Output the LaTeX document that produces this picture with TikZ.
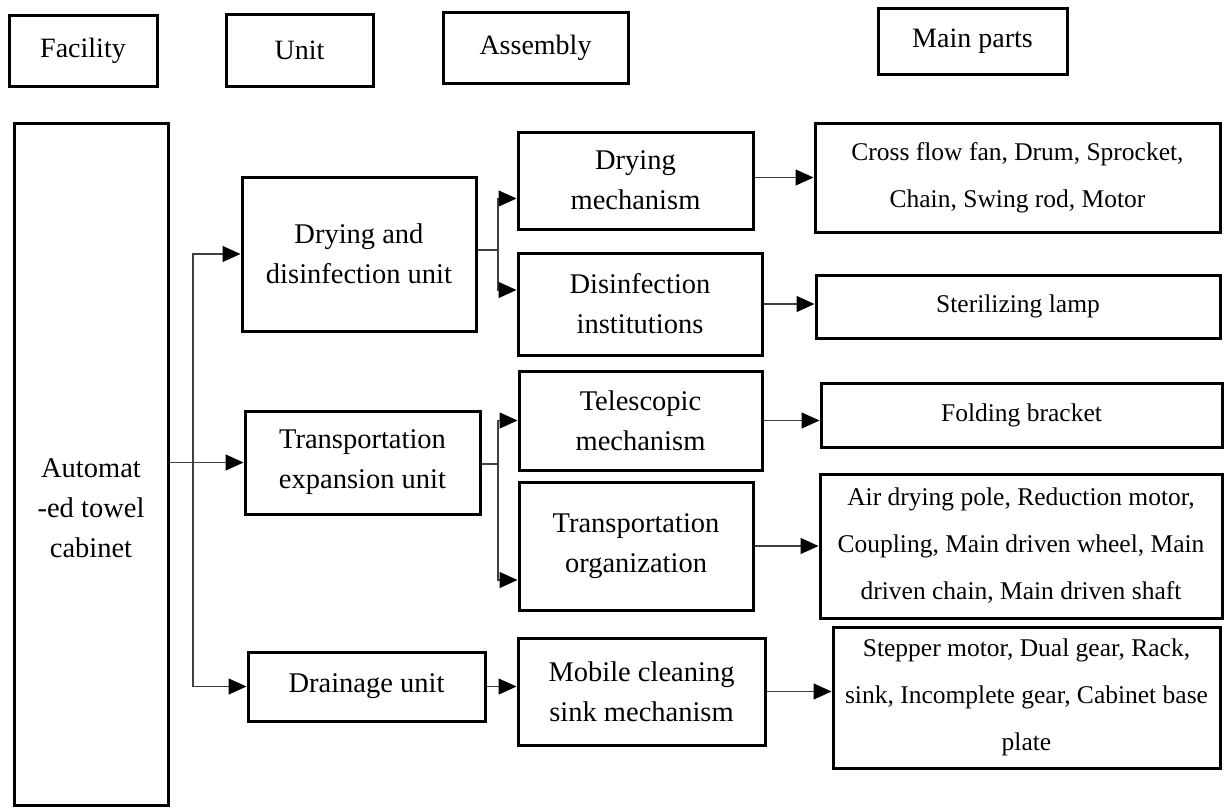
\documentclass[tikz,border=0pt]{standalone}
\usepackage{fontspec}
\setmainfont{Liberation Serif}
\usetikzlibrary{arrows.meta}

\tikzset{
  box/.style={draw=black,line width=3pt,align=center,inner sep=0pt},
  headtext/.style={font=\fontsize{28}{32}\selectfont},
  midtext/.style={font=\fontsize{28.5}{40}\selectfont},
  parttext/.style={font=\fontsize{25.5}{47}\selectfont},
  link/.style={draw=black!75,line width=1.3pt},
  arr/.style={link,-{Triangle[length=18pt,width=16pt,color=black]}}
}

\begin{document}
\begin{tikzpicture}[x=1pt,y=-1pt]
  \useasboundingbox (0,0) rectangle (1225,807);

  % header row
  \node[box,headtext,minimum width=148pt,minimum height=71pt] (hfac) at (83,50.5) {Facility};
  \node[box,headtext,minimum width=147pt,minimum height=72pt] (hunit) at (299.5,50) {Unit};
  \node[box,headtext,minimum width=185pt,minimum height=71pt] (hasm) at (535.5,47.5) {Assembly};
  \node[box,headtext,minimum width=189pt,minimum height=66pt] (hpart) at (972.5,41) {Main parts};

  % facility
  \node[box,minimum width=154pt,minimum height=682pt] (fac) at (91,464) {};
  \node[midtext,align=center] (factext) at (91,508) {Automat\\-ed towel\\cabinet};

  % units
  \node[box,midtext,minimum width=234pt,minimum height=154pt] (dry) at (359,254) {Drying and\\disinfection unit};
  \node[box,midtext,minimum width=235pt,minimum height=103pt] (trans) at (362.5,462.5) {Transportation\\expansion unit};
  \node[box,midtext,minimum width=237pt,minimum height=69pt] (drain) at (366.5,686.5) {Drainage unit};

  % assemblies
  \node[box,midtext,minimum width=235pt,minimum height=97pt] (drymech) at (635.5,180.5) {Drying\\mechanism};
  \node[box,midtext,minimum width=244pt,minimum height=102pt] (disinf) at (640,304) {Disinfection\\institutions};
  \node[box,midtext,minimum width=243pt,minimum height=99pt] (telesc) at (640.5,420.5) {Telescopic\\mechanism};
  \node[box,midtext,minimum width=234pt,minimum height=128pt] (transorg) at (636,546) {Transportation\\organization};
  \node[box,midtext,minimum width=247pt,minimum height=107pt] (mobile) at (641.5,691.5) {Mobile cleaning\\sink mechanism};

  % main parts
  \node[box,parttext,minimum width=405pt,minimum height=109pt] (cross) at (1017.5,177.5) {Cross flow fan, Drum, Sprocket,\\Chain, Swing rod, Motor};
  \node[box,parttext,minimum width=404pt,minimum height=63pt] (steril) at (1018,306.5) {Sterilizing lamp};
  \node[box,parttext,minimum width=401pt,minimum height=64pt] (fold) at (1021.5,415) {Folding bracket};
  \node[box,parttext,minimum width=402pt,minimum height=144pt] (air) at (1021,546) {Air drying pole, Reduction motor,\\Coupling, Main driven wheel, Main\\driven chain, Main driven shaft};
  \node[box,parttext,minimum width=387pt,minimum height=141pt] (stepper) at (1026.5,697.5) {Stepper motor, Dual gear, Rack,\\sink, Incomplete gear, Cabinet base\\plate};

  % facility -> units
  \coordinate (trunk) at (193,0);
  \draw[arr] (drain.west -| trunk) |- (dry.west);
  \draw[arr] (drain.west -| trunk) -- (drain.west);
  \draw[arr] (fac.east |- trans.west) -- (trans.west);

  % units -> assemblies
  \coordinate (dfork) at (498,250);
  \coordinate (tfork) at (498,464);
  \draw[link] (dry.east |- dfork) -- (dfork);
  \draw[arr] (dfork) |- ([yshift=-18pt]drymech.west);
  \draw[arr] (dfork) |- ([yshift=14pt]disinf.west);
  \draw[link] (trans.east |- tfork) -- (tfork);
  \draw[arr] (tfork) |- (telesc.west);
  \draw[arr] (tfork) |- ([yshift=-34pt]transorg.west);
  \draw[arr] (drain.east) -- (drain.east -| mobile.west);

  % assemblies -> main parts
  \draw[arr] (cross.west -| drymech.east) -- (cross.west);
  \foreach \a/\b in {disinf/steril,telesc/fold,transorg/air,mobile/stepper}
    \draw[arr] (\a.east) -- (\a.east -| \b.west);
\end{tikzpicture}
\end{document}
